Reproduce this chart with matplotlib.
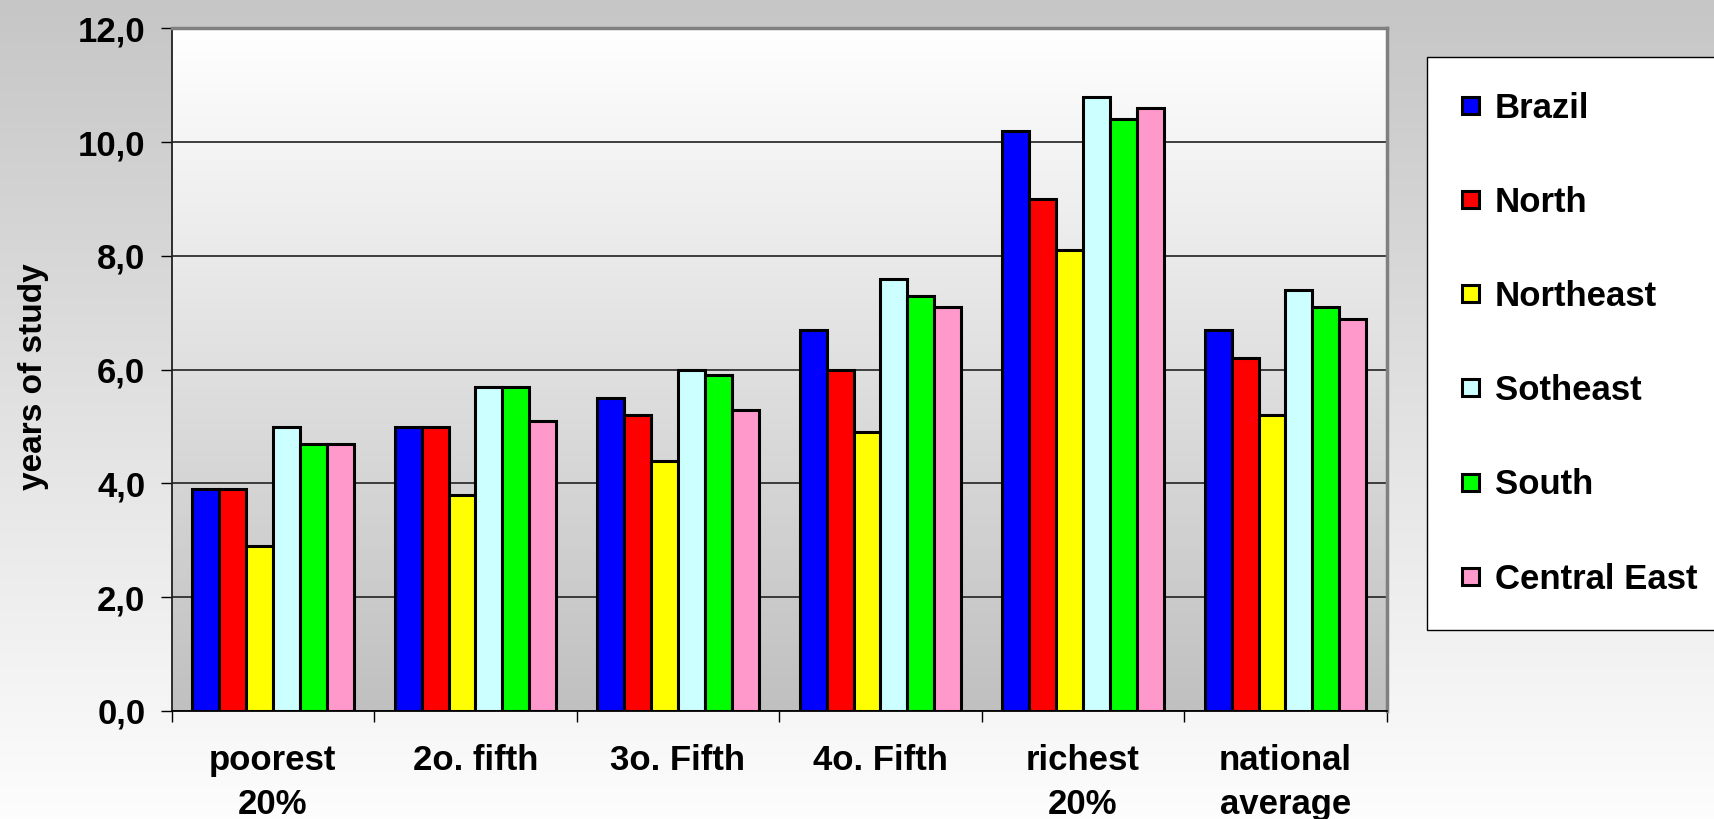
import numpy as np
import matplotlib
matplotlib.use("Agg")
import matplotlib.pyplot as plt
from matplotlib.ticker import FixedLocator, FuncFormatter

categories = ["poorest\n20%", "2o. fifth", "3o. Fifth", "4o. Fifth", "richest\n20%", "national\naverage"]
regions = ["Brazil", "North", "Northeast", "Sotheast", "South", "Central East"]
colors = ["#0000FF", "#FF0000", "#FFFF00", "#CCFFFF", "#00FF00", "#FF99CC"]

brazil = [3.9, 5.0, 5.5, 6.7, 10.2, 6.7]
north = [3.9, 5.0, 5.2, 6.0, 9.0, 6.2]
northeast = [2.9, 3.8, 4.4, 4.9, 8.1, 5.2]
southeast = [5.0, 5.7, 6.0, 7.6, 10.8, 7.4]
south = [4.7, 5.7, 5.9, 7.3, 10.4, 7.1]
central_east = [4.7, 5.1, 5.3, 7.1, 10.6, 6.9]
series = [brazil, north, northeast, southeast, south, central_east]

yticks = [0, 2, 4, 6, 8, 10, 12]

plt.rcParams["font.family"] = ["Liberation Sans", "DejaVu Sans"]
plt.rcParams["font.weight"] = "bold"

fig = plt.figure(figsize=(17.15, 8.19), dpi=100)

# figure background: vertical grey gradient
bg = fig.add_axes([0, 0, 1, 1], zorder=-10)
grad = np.linspace(0, 1, 256).reshape(-1, 1)
bg_cmap = matplotlib.colors.LinearSegmentedColormap.from_list("bg", ["#c6c6c6", "#fdfdfd"])
bg.imshow(grad, cmap=bg_cmap, aspect="auto", extent=[0, 1, 0, 1])
bg.set_axis_off()

ax = fig.add_axes([0.1001, 0.1319, 0.7085, 0.8334])
ax.set_facecolor("none")

n_cat = len(categories)
n_ser = len(series)
x = np.arange(n_cat)
width = 0.133

# plot area gradient: white at top, grey at bottom
pa_cmap = matplotlib.colors.LinearSegmentedColormap.from_list("pa", ["#c0c0c0", "#ffffff"])
ax.imshow(grad, cmap=pa_cmap, aspect="auto", extent=[-0.5, n_cat - 0.5, 0, 12],
          origin="lower", zorder=0)

for i, (vals, name, col) in enumerate(zip(series, regions, colors)):
    offs = (i - (n_ser - 1) / 2) * width
    ax.bar(x + offs, vals, width=width, color=col, edgecolor="black",
           linewidth=2.2, label=name, zorder=3)

ax.set_xlim(-0.5, n_cat - 0.5)
ax.set_ylim(0, 12)

ax.yaxis.grid(True, color="#303030", linewidth=1.3, zorder=1)
ax.set_axisbelow(True)

ax.yaxis.set_major_locator(FixedLocator(yticks))
ax.yaxis.set_major_formatter(FuncFormatter(lambda v, p: f"{v:.1f}".replace(".", ",")))
ax.tick_params(axis="y", length=8, width=1.0, pad=11, labelsize=25, color="black")

ax.set_xticks(np.arange(-0.5, n_cat, 1.0))
ax.set_xticklabels([])
ax.set_xticks(x, minor=True)
ax.set_xticklabels(categories, minor=True, fontsize=25, fontweight="bold", linespacing=1.4)
ax.tick_params(axis="x", which="major", length=8, width=1.0, color="black")
ax.tick_params(axis="x", which="minor", length=0, pad=24)

for lbl in ax.get_yticklabels():
    lbl.set_fontweight("bold")

ax.spines["left"].set_color("#202020")
ax.spines["left"].set_linewidth(1.3)
ax.spines["bottom"].set_color("black")
ax.spines["bottom"].set_linewidth(1.3)
for s in ("top", "right"):
    ax.spines[s].set_color("#808080")
    ax.spines[s].set_linewidth(2.5)

fig.text(0.0195, 0.54, "years of study", rotation=90, fontsize=24, fontweight="bold",
         ha="center", va="center")

leg = fig.legend(loc="upper left", bbox_to_anchor=(0.8321, 0.930), frameon=True,
                 fancybox=False, edgecolor="black", facecolor="white", framealpha=1,
                 prop={"weight": "bold", "size": 25},
                 handlelength=0.5, handleheight=0.38, handletextpad=0.46,
                 labelspacing=1.76, borderpad=1.0, borderaxespad=0)
leg.get_frame().set_linewidth(1.0)

fig.savefig("out.png", dpi=100)
